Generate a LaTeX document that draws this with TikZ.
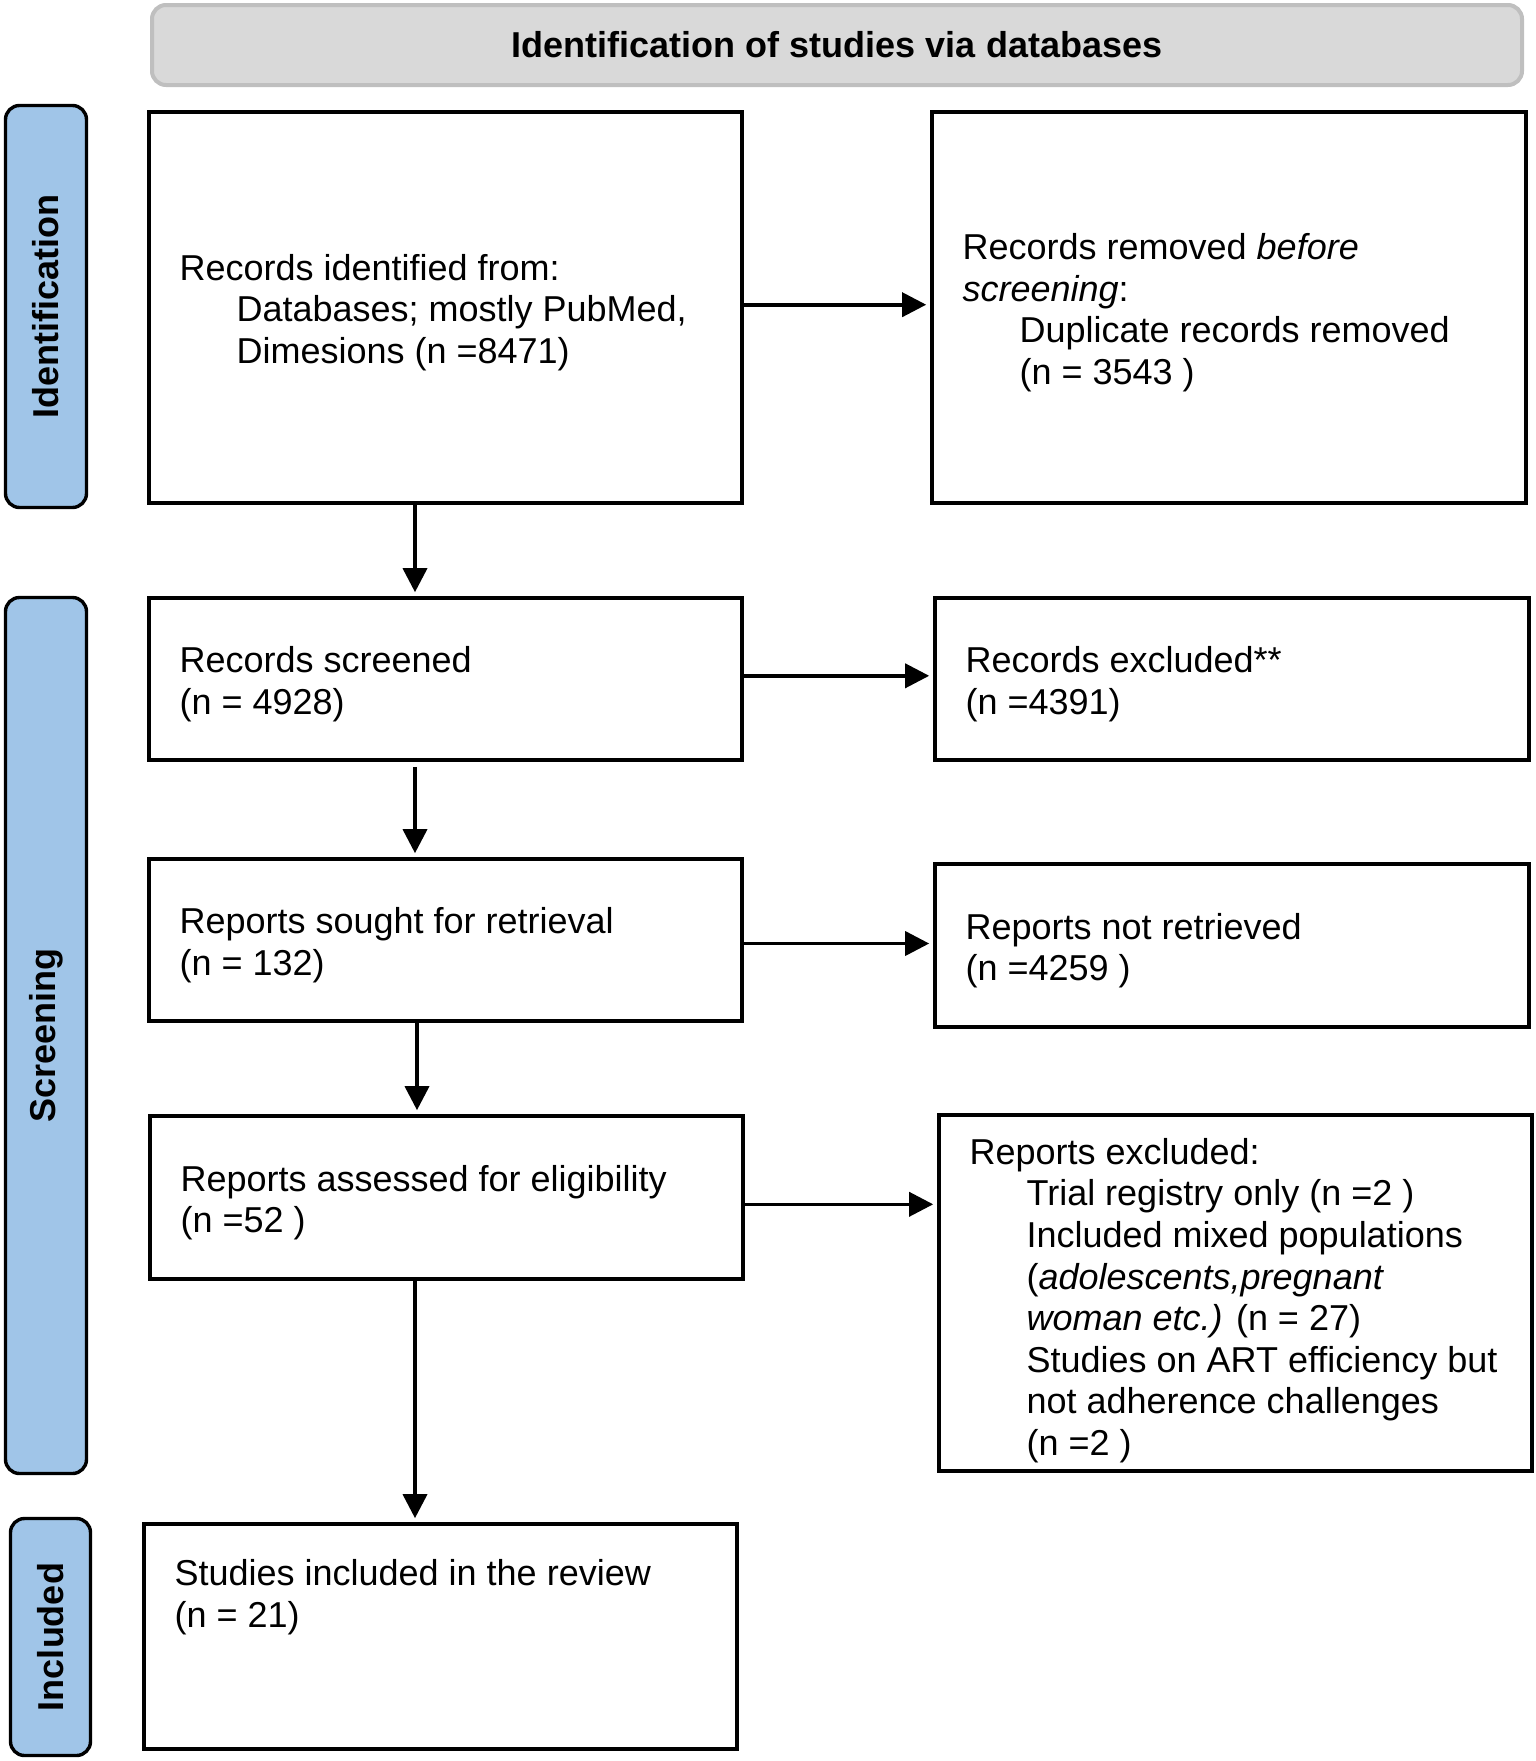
\documentclass[tikz,border=0pt]{standalone}
\usepackage{fontspec}
\setmainfont{Liberation Sans}
\usetikzlibrary{arrows.meta}
\definecolor{hdrfill}{RGB}{217,217,217}
\definecolor{hdrline}{RGB}{191,191,191}
\definecolor{sidefill}{RGB}{160,197,232}
\newcommand{\ind}{\hspace*{28.5pt}}
\begin{document}
\begin{tikzpicture}[x=0.5pt,y=-0.5pt,
  box/.style={draw, line width=1.8pt, inner sep=0pt, fill=white},
  txt/.style={font=\fontsize{18pt}{20.8pt}\selectfont, align=left, inner sep=0pt, anchor=west},
  side/.style={draw, line width=1.7pt, fill=sidefill, rounded corners=7pt, rotate=90,
    font=\bfseries\fontsize{18pt}{20.8pt}\selectfont, inner sep=0pt},
  hdr/.style={draw=hdrline, line width=2pt, fill=hdrfill, rounded corners=7pt,
    font=\bfseries\fontsize{18pt}{20.8pt}\selectfont, inner sep=0pt},
  arr/.style={line width=1.8pt, -{Triangle[length=12pt,width=12pt]}, shorten >=2pt}]
\useasboundingbox (0,0) rectangle (1536,1761);

% header
\node[hdr, minimum width=685pt, minimum height=40pt] (hdr) at (837,45) {Identification of studies via databases};

% side bars
\node[side, minimum width=201pt, minimum height=40.5pt] (s1) at (46,306.5) {Identification};
\node[side, minimum width=438pt, minimum height=40.5pt] (s2) at (46,1035.5) {Screening};
\node[side, minimum width=118.5pt, minimum height=40pt] (s3) at (50.5,1637) {Included};

% boxes
\node[box, minimum width=296.5pt, minimum height=195.5pt] (b1) at (445.5,307.5) {};
\node[box, minimum width=297pt, minimum height=195.5pt] (b2) at (1229,307.5) {};
\node[box, minimum width=296.5pt, minimum height=81pt] (b3) at (445.5,679) {};
\node[box, minimum width=297pt, minimum height=81pt] (b4) at (1232,679) {};
\node[box, minimum width=296.5pt, minimum height=81pt] (b5) at (445.5,940) {};
\node[box, minimum width=297pt, minimum height=81.5pt] (b6) at (1232,945.5) {};
\node[box, minimum width=296.5pt, minimum height=81.5pt] (b7) at (446.5,1197.5) {};
\node[box, minimum width=296.5pt, minimum height=178pt] (b8) at (1235.5,1293) {};
\node[box, minimum width=296.5pt, minimum height=112.5pt] (b9) at (440.5,1636.5) {};

% texts
\node[txt] (t1) at ([xshift=16pt,yshift=-2.5pt]b1.west)
  {Records identified from:\\\ind Databases; mostly PubMed,\\\ind Dimesions (n =8471)};
\node[txt] (t2) at ([xshift=16pt,yshift=-2.5pt]b2.west)
  {Records removed \textit{before}\\\textit{screening}:\\\ind Duplicate records removed\\\ind (n = 3543 )};
\node[txt] (t3) at ([xshift=16pt,yshift=-2.5pt]b3.west)
  {Records screened\\(n = 4928)};
\node[txt] (t4) at ([xshift=16pt,yshift=-2.5pt]b4.west)
  {Records excluded**\\(n =4391)};
\node[txt] (t5) at ([xshift=16pt,yshift=-2.5pt]b5.west)
  {Reports sought for retrieval\\(n = 132)};
\node[txt] (t6) at ([xshift=16pt,yshift=-2.5pt]b6.west)
  {Reports not retrieved\\(n =4259 )};
\node[txt] (t7) at ([xshift=16pt,yshift=-2.5pt]b7.west)
  {Reports assessed for eligibility\\(n =52 )};
\node[txt] (t8) at ([xshift=16pt,yshift=-3.75pt]b8.west)
  {Reports excluded:\\
   \ind Trial registry only (n =2 )\\
   \ind Included mixed populations\\
   \ind (\textit{adolescents,pregnant}\\
   \ind \textit{woman etc.)} (n = 27)\\
   \ind Studies on ART efficiency but\\
   \ind not adherence challenges\\
   \ind (n =2 )};
\node[txt, anchor=north west] (t9) at ([xshift=16pt,yshift=-18.5pt]b9.north west)
  {Studies included in the review\\(n = 21)};

% connectors
\draw[arr] ([yshift=1.4pt]b1.east) -- ([yshift=1.4pt]b1.east -| b2.west);
\draw[arr] ([yshift=1.6pt]b3.east) -- ([yshift=1.6pt]b3.east -| b4.west);
\draw[arr] ([yshift=-1.75pt]b5.east) -- ([yshift=-1.75pt]b5.east -| b6.west);
\draw[arr] ([yshift=-3.4pt]b7.east) -- ([yshift=-3.4pt]b7.east -| b8.west);

\draw[arr] ([xshift=-15.25pt]b1.south) -- ([xshift=-15.25pt]b1.south |- b3.north);
\draw[arr] ([xshift=-15.25pt,yshift=-2.5pt]b3.south) -- ([xshift=-15.25pt]b3.south |- b5.north);
\draw[arr] ([xshift=-14.25pt]b5.south) -- ([xshift=-14.25pt]b5.south |- b7.north);
\draw[arr] ([xshift=-15.75pt]b7.south) -- ([xshift=-15.75pt]b7.south |- b9.north);
\end{tikzpicture}
\end{document}
